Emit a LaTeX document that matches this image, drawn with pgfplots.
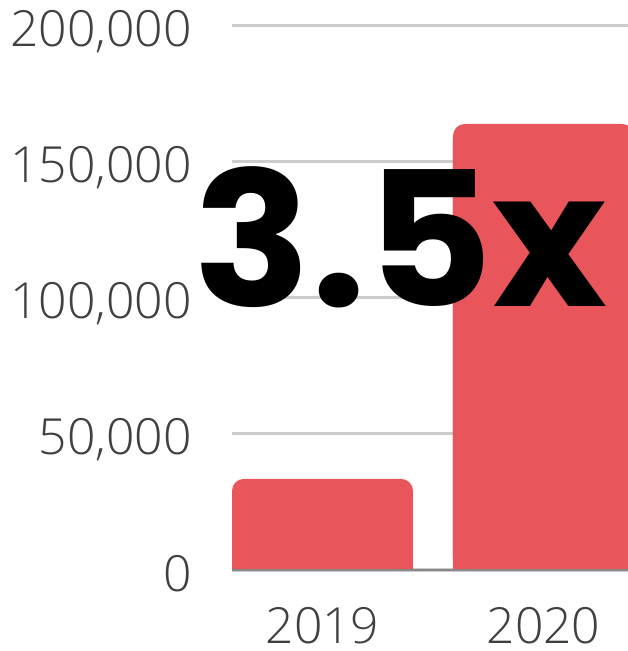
\documentclass[border=0pt]{standalone}
\usepackage{fontspec}
\setmainfont{Open Sans Light}
\newfontfamily\bigfont{Poppins}
\usepackage{pgfplots}
\pgfplotsset{compat=1.18}
\definecolor{barred}{HTML}{E8565C}
\definecolor{gridgray}{HTML}{CCCCCC}
\definecolor{basegray}{HTML}{888888}
\definecolor{labgray}{HTML}{404040}
\begin{document}
\begin{tikzpicture}
\useasboundingbox (0,0) rectangle (628bp,651bp);
\begin{axis}[
  at={(232bp,81bp)}, anchor=south west,
  scale only axis, width=396bp, height=544bp,
  xmin=-0.4095, xmax=1.3824,
  ymin=0, ymax=200000,
  axis lines=none,
  ytick={0,50000,100000,150000,200000},
  xtick={0,1}, xticklabels={2019,2020},
  ymajorgrids,
  y grid style={draw=gridgray, line width=3bp},
  major grid style={draw=gridgray, line width=3bp},
  major tick length=0pt,
  /pgf/number format/assume math mode=true,
  scaled y ticks=false,
  yticklabel={\pgfmathprintnumber[fixed,1000 sep={,}]{\tick}},
  ticklabel style={font=\fontsize{50}{60}\selectfont, text=labgray, inner sep=0pt},
  yticklabel style={anchor=base east, xshift=-40bp, yshift=-21bp},
  xticklabel style={anchor=base, yshift=-73bp},
  hide x axis=false, hide y axis=false,
  axis line style={draw=none},
  clip mode=individual,
]
\addplot[ybar, bar width=181bp, fill=barred, draw=none, rounded corners=12bp] coordinates {(0,33500) (1,164000)};
\addplot[ybar, bar width=181bp, fill=barred, draw=none, y filter/.expression={y-6000}] coordinates {(0,33500) (1,164000)};
\draw[basegray, line width=2bp] (rel axis cs:0,0) -- (rel axis cs:1,0);
\node[anchor=base, inner sep=0pt, xscale=1.04, font=\bigfont\bfseries\fontsize{188}{200}\selectfont] at (axis cs:0.353,96700) {3.5x};
\end{axis}
\end{tikzpicture}
\end{document}
